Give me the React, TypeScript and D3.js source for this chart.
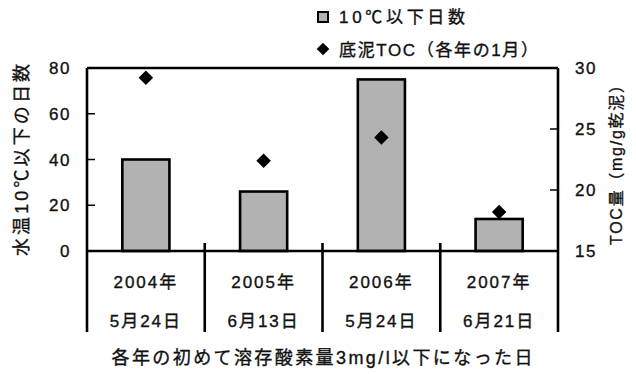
import React from "react";
import * as d3 from "d3";

const categories = ["2004年", "2005年", "2006年", "2007年"];
const dates = ["5月24日", "6月13日", "5月24日", "6月21日"];
const daysBelow10 = [40, 26, 75, 14];
const tocValues = [29.2, 22.4, 24.3, 18.2];
const leftTicks = [0, 20, 40, 60, 80];
const rightTicks = [15, 20, 25, 30];

const W = 636;
const H = 374;
const M = { left: 87, right: 558, top: 68, bottom: 251 };
const FONT = "'Liberation Sans', Arial, 'Noto Sans CJK JP', sans-serif";
const INK = "#111";
const TS = { fill: INK, stroke: INK, strokeWidth: 0.35 };

export default function App() {
  const x = d3.scaleBand<string>().domain(categories).range([M.left, M.right]).padding(0);
  const yL = d3.scaleLinear().domain([0, 80]).range([M.bottom, M.top]);
  const yR = d3.scaleLinear().domain([15, 30]).range([M.bottom, M.top]);
  const bw = x.bandwidth() * 0.4;
  const diamond = d3.symbol().type(d3.symbolSquare).size(105)() as string;
  const legendDiamond = d3.symbol().type(d3.symbolSquare).size(80)() as string;
  const sw = 2.6;

  return (
    <svg
      width={W}
      height={H}
      style={{ position: "absolute", left: 0, top: 0, background: "#fff" }}
      fontFamily={FONT}
    >
      <rect x={0} y={0} width={W} height={H} fill="#fff" />
      {/* Legend */}
      <rect x={318} y={12} width={10} height={10} fill="#b2b2b2" stroke="#000" strokeWidth={2} />
      <text x={339} y={23} fontSize={17} {...TS} textLength={126} lengthAdjust="spacing">
        10℃以下日数
      </text>
      <path d={legendDiamond} transform="translate(323,49) rotate(45)" fill="#000" />
      <text x={339} y={56} fontSize={17} {...TS} textLength={199} lengthAdjust="spacing">
        底泥TOC（各年の1月）
      </text>

      {/* Bars */}
      {categories.map((c, i) => {
        const cx = (x(c) as number) + x.bandwidth() / 2;
        return (
          <rect
            key={"b" + c}
            x={cx - bw / 2}
            y={yL(daysBelow10[i])}
            width={bw}
            height={M.bottom - yL(daysBelow10[i])}
            fill="#b2b2b2"
            stroke="#000"
            strokeWidth={sw}
          />
        );
      })}

      {/* Frame */}
      <line x1={M.left} x2={M.right} y1={M.top} y2={M.top} stroke="#000" strokeWidth={sw} />
      <line x1={M.left} x2={M.right} y1={M.bottom} y2={M.bottom} stroke="#000" strokeWidth={sw} />
      <line x1={M.left} x2={M.left} y1={M.top} y2={332} stroke="#000" strokeWidth={sw} />
      <line x1={M.right} x2={M.right} y1={M.top} y2={332} stroke="#000" strokeWidth={sw} />
      {categories.slice(1).map((c) => (
        <line
          key={"d" + c}
          x1={x(c) as number}
          x2={x(c) as number}
          y1={M.bottom - 8}
          y2={332}
          stroke="#000"
          strokeWidth={sw}
        />
      ))}

      {/* Left ticks */}
      {leftTicks.map((t) => (
        <g key={"l" + t}>
          {t > 0 && t < 80 && (
            <line x1={M.left} x2={M.left + 8} y1={yL(t)} y2={yL(t)} stroke="#000" strokeWidth={1.5} />
          )}
          <text x={71} y={yL(t)} dy="0.36em" textAnchor="end" fontSize={17} {...TS} letterSpacing={1.5}>
            {t}
          </text>
        </g>
      ))}

      {/* Right ticks */}
      {rightTicks.map((t) => (
        <g key={"r" + t}>
          {t > 15 && t < 30 && (
            <line x1={M.right - 8} x2={M.right} y1={yR(t)} y2={yR(t)} stroke="#000" strokeWidth={1.5} />
          )}
          <text x={575} y={yR(t)} dy="0.36em" fontSize={17} {...TS} letterSpacing={1.5}>
            {t}
          </text>
        </g>
      ))}

      {/* Diamonds */}
      {categories.map((c, i) => {
        const cx = (x(c) as number) + x.bandwidth() / 2;
        return (
          <path
            key={"p" + c}
            d={diamond}
            transform={`translate(${cx},${yR(tocValues[i])}) rotate(45)`}
            fill="#000"
          />
        );
      })}

      {/* Category labels */}
      {categories.map((c, i) => {
        const cx = (x(c) as number) + x.bandwidth() / 2;
        return (
          <g key={"c" + c}>
            <text x={cx} y={288} textAnchor="middle" fontSize={17} {...TS} letterSpacing={2}>
              {c}
            </text>
            <text x={cx} y={327} textAnchor="middle" fontSize={17} {...TS} letterSpacing={2}>
              {dates[i]}
            </text>
          </g>
        );
      })}

      {/* Axis titles */}
      <text
        transform="translate(28,160) rotate(-90)"
        textAnchor="middle"
        fontSize={18}
        {...TS}
        textLength={192}
        lengthAdjust="spacing"
      >
        水温10℃以下の日数
      </text>
      <text
        transform="translate(622,161) rotate(-90)"
        textAnchor="middle"
        fontSize={16}
        {...TS}
        textLength={168}
        lengthAdjust="spacing"
      >
        TOC量（mg/g乾泥）
      </text>
      <text
        x={322}
        y={364}
        textAnchor="middle"
        fontSize={18}
        {...TS}
        textLength={421}
        lengthAdjust="spacing"
      >
        各年の初めて溶存酸素量3mg/l以下になった日
      </text>
    </svg>
  );
}
